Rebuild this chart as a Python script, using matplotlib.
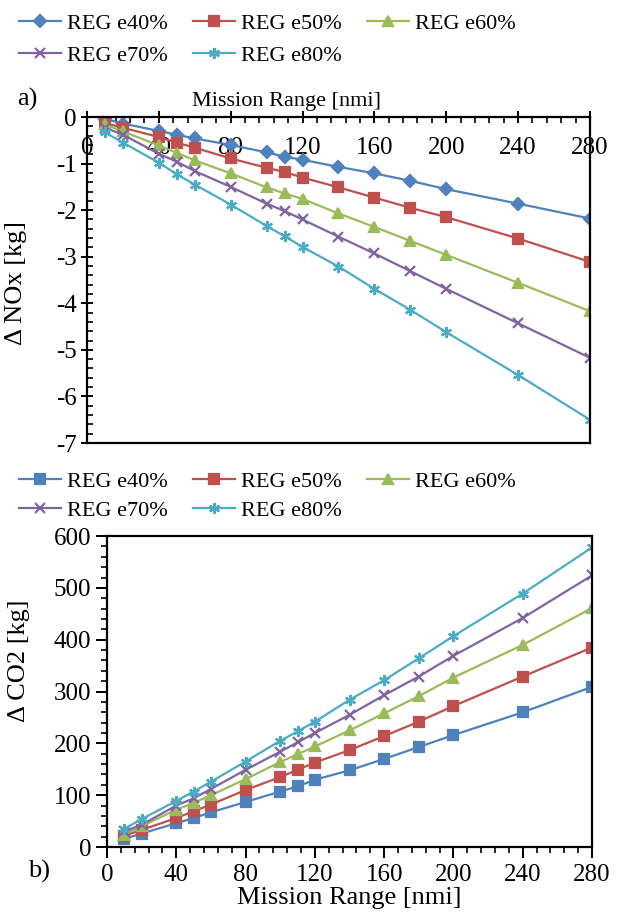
import matplotlib
matplotlib.use("Agg")
import matplotlib.pyplot as plt
from matplotlib.ticker import MultipleLocator

plt.rcParams["font.family"] = ["Liberation Serif", "DejaVu Serif"]
plt.rcParams["axes.unicode_minus"] = False

# mission range [nmi]
x = [10, 20, 40, 50, 60, 80, 100, 110, 120, 140, 160, 180, 200, 240, 280]

labels = ["REG e40%", "REG e50%", "REG e60%", "REG e70%", "REG e80%"]
colors = ["#4F81BD", "#C0504D", "#9BBB59", "#8064A2", "#4BACC6"]

# delta NOx [kg]
nox_e40 = [-0.04, -0.14, -0.30, -0.38, -0.46, -0.60, -0.76, -0.85, -0.92, -1.07, -1.21, -1.37, -1.55, -1.86, -2.18]
nox_e50 = [-0.13, -0.23, -0.43, -0.55, -0.66, -0.89, -1.09, -1.18, -1.30, -1.51, -1.73, -1.95, -2.15, -2.61, -3.11]
nox_e60 = [-0.16, -0.31, -0.61, -0.77, -0.93, -1.21, -1.51, -1.64, -1.76, -2.07, -2.36, -2.66, -2.96, -3.56, -4.17]
nox_e70 = [-0.23, -0.38, -0.79, -0.96, -1.16, -1.50, -1.86, -2.02, -2.20, -2.57, -2.93, -3.31, -3.69, -4.43, -5.17]
nox_e80 = [-0.33, -0.55, -0.98, -1.23, -1.45, -1.88, -2.34, -2.56, -2.79, -3.21, -3.69, -4.14, -4.62, -5.54, -6.50]

# delta CO2 [kg]
co2_e40 = [16, 26, 46, 56, 67, 87, 107, 117, 130, 148, 170, 193, 216, 260, 309]
co2_e50 = [22, 33, 56, 69, 82, 110, 135, 149, 163, 187, 214, 242, 272, 329, 385]
co2_e60 = [24, 40, 72, 85, 100, 131, 164, 179, 194, 225, 258, 291, 327, 390, 461]
co2_e70 = [30, 43, 80, 94, 112, 149, 184, 202, 220, 255, 293, 329, 369, 442, 524]
co2_e80 = [35, 54, 89, 107, 126, 165, 205, 223, 242, 284, 322, 364, 407, 489, 578]

STAR = (6, 2, 0)
mk_top = ["D", "s", "^", "x", STAR]
mk_bot = ["s", "s", "^", "x", STAR]
ms_top = [6, 6.5, 7, 7, 8]
ms_bot = [6.5, 6.5, 7, 7, 8]

# legend is filled column-wise by matplotlib; reorder so rows read e40 e50 e60 / e70 e80
LEG_ORDER = [0, 3, 1, 4, 2]

fig = plt.figure(figsize=(6.24, 9.17), dpi=100)
ax1 = fig.add_axes([0.1394, 0.5169, 0.806, 0.3555])
ax2 = fig.add_axes([0.1715, 0.0763, 0.7772, 0.3391])


def style(ax):
    for s in ax.spines.values():
        s.set_linewidth(1.6)
    ax.set_xlim(0, 280)
    ax.xaxis.set_major_locator(MultipleLocator(40))
    ax.xaxis.set_minor_locator(MultipleLocator(8))
    ax.tick_params(which="major", labelsize=18, width=1.4, length=8)
    ax.tick_params(which="minor", width=1.2, length=4)


def legend(ax, top_px, spacing):
    h, l = ax.get_legend_handles_labels()
    fig.legend([h[i] for i in LEG_ORDER], [l[i] for i in LEG_ORDER],
               loc="upper left", bbox_to_anchor=(19 / 624, 1 - top_px / 917),
               ncol=3, frameon=False, fontsize=16, handlelength=1.9,
               handletextpad=0.25, columnspacing=1.15, labelspacing=spacing,
               borderpad=0, borderaxespad=0)


# ---- a) NOx ----
for ys, c, m, ms, lab in zip([nox_e40, nox_e50, nox_e60, nox_e70, nox_e80],
                             colors, mk_top, ms_top, labels):
    ax1.plot(x, ys, color=c, marker=m, ms=ms, lw=1.6, mew=1.6, label=lab)
style(ax1)
ax1.set_ylim(-7, 0)
ax1.yaxis.set_major_locator(MultipleLocator(1))
ax1.yaxis.set_minor_locator(MultipleLocator(0.2))
ax1.xaxis.set_ticks_position("top")
ax1.xaxis.set_label_position("top")
ax1.tick_params(axis="x", which="major", direction="inout", pad=-34)
ax1.tick_params(axis="x", which="minor", direction="in")
ax1.tick_params(axis="y", which="major", direction="inout")
ax1.tick_params(axis="y", which="minor", direction="in")
ax1.set_xlabel("Mission Range [nmi]", fontsize=16)
ax1.xaxis.set_label_coords(0.396, 1.035)
ax1.set_ylabel("Δ NOx [kg]", fontsize=19)
ax1.yaxis.set_label_coords(-0.12, 0.49)
fig.text(27 / 624, 1 - 99 / 917, "a)", fontsize=19, ha="center", va="center")
legend(ax1, 13, 0.53)

# ---- b) CO2 ----
for ys, c, m, ms, lab in zip([co2_e40, co2_e50, co2_e60, co2_e70, co2_e80],
                             colors, mk_bot, ms_bot, labels):
    ax2.plot(x, ys, color=c, marker=m, ms=ms, lw=1.6, mew=1.6, label=lab)
style(ax2)
ax2.set_ylim(0, 600)
ax2.yaxis.set_major_locator(MultipleLocator(100))
ax2.yaxis.set_minor_locator(MultipleLocator(20))
ax2.tick_params(which="major", direction="out")
ax2.tick_params(axis="x", which="major", pad=4)
ax2.tick_params(which="minor", direction="out")
ax2.set_xlabel("Mission Range [nmi]", fontsize=19, labelpad=1)
ax2.set_ylabel("Δ CO2 [kg]", fontsize=19)
ax2.yaxis.set_label_coords(-0.159, 0.60)
fig.text(39 / 624, 1 - 871 / 917, "b)", fontsize=19, ha="center", va="center")
legend(ax2, 471, 0.39)

fig.savefig("out.png", dpi=100)
